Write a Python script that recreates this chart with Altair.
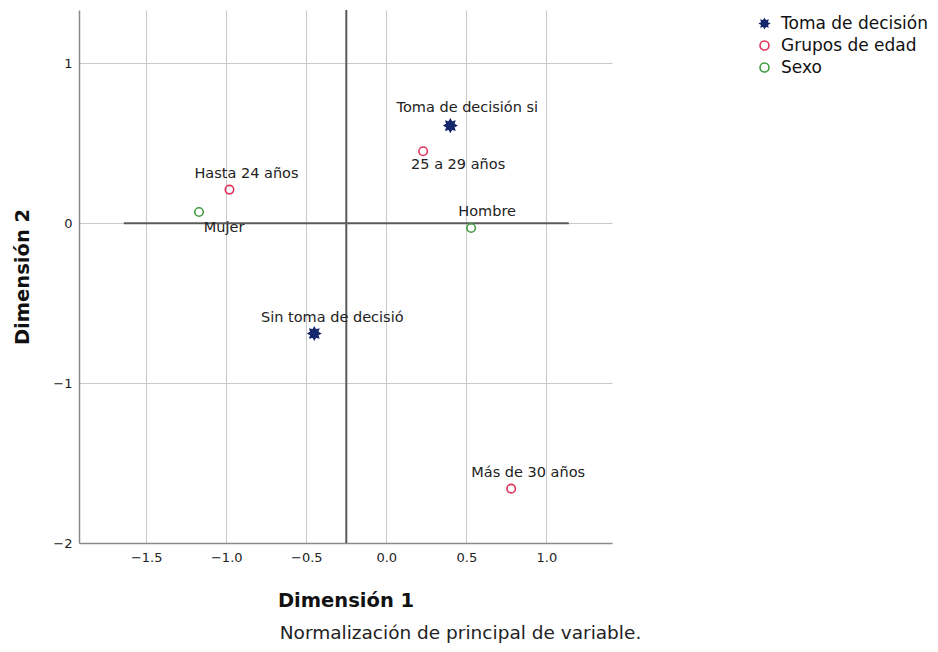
import math
import altair as alt
import pandas as pd

# ---- data ----
categories = ["Toma de decisión si", "Sin toma de decisió", "Hasta 24 años",
              "25 a 29 años", "Más de 30 años", "Mujer", "Hombre"]
variables = ["Toma de decisión", "Toma de decisión", "Grupos de edad",
             "Grupos de edad", "Grupos de edad", "Sexo", "Sexo"]
dim1 = [0.40, -0.45, -0.98, 0.23, 0.78, -1.17, 0.53]
dim2 = [0.61, -0.69, 0.21, 0.45, -1.66, 0.07, -0.03]

legend_order = ["Toma de decisión", "Grupos de edad", "Sexo"]
x_ticks = [-1.5, -1.0, -0.5, 0.0, 0.5, 1.0]
y_ticks = [-2, -1, 0, 1]
ref_x = [-0.25]          # vertical reference line
ref_y = [0.0]            # horizontal reference line
ref_y_from = [-1.64]
ref_y_to = [1.14]

# ---- styling ----
FONT = "DejaVu Sans"
colors = ["#14286e", "#e0345a", "#3f9c3f"]
fills = ["#14286e", "transparent", "transparent"]

def star_path(n=8, r_out=1.0, r_in=0.62):
    pts = []
    for i in range(2 * n):
        r = r_out if i % 2 == 0 else r_in
        a = math.pi * i / n - math.pi / 2
        pts.append(f"{r*math.cos(a):.3f},{r*math.sin(a):.3f}")
    return "M" + "L".join(pts) + "Z"

shapes = [star_path(), "circle", "circle"]

df = pd.DataFrame({"cat": categories, "var": variables, "d1": dim1, "d2": dim2})
vline = pd.DataFrame({"x": ref_x})
hline = pd.DataFrame({"y": ref_y, "x1": ref_y_from, "x2": ref_y_to})

xs = alt.Scale(domain=[-1.92, 1.41], nice=False, zero=False)
ys = alt.Scale(domain=[-2.0, 1.333], nice=False, zero=False)

x_axis = alt.Axis(values=x_ticks, format=".1f", title="Dimensión 1", grid=True,
                  ticks=False, labelPadding=8, titlePadding=27)
y_axis = alt.Axis(values=y_ticks, format="d", title="Dimensión 2", grid=True,
                  ticks=False, labelPadding=7, titlePadding=20)

base = alt.Chart(df)

vrule = alt.Chart(vline).mark_rule(color="#5a5a5a", strokeWidth=2).encode(
    x=alt.X("x:Q", scale=xs, axis=x_axis)
)
hrule = alt.Chart(hline).mark_rule(color="#5a5a5a", strokeWidth=2).encode(
    y=alt.Y("y:Q", scale=ys, axis=y_axis),
    x=alt.X("x1:Q", scale=xs),
    x2="x2:Q",
)

points = base.mark_point(strokeWidth=1.6, opacity=1).encode(
    x=alt.X("d1:Q", scale=xs),
    y=alt.Y("d2:Q", scale=ys),
    stroke=alt.Stroke("var:N", scale=alt.Scale(domain=legend_order, range=colors),
                      legend=alt.Legend(title=None)),
    fill=alt.Fill("var:N", scale=alt.Scale(domain=legend_order, range=fills),
                  legend=alt.Legend(title=None)),
    shape=alt.Shape("var:N", scale=alt.Scale(domain=legend_order, range=shapes),
                    legend=alt.Legend(title=None)),
    size=alt.condition("datum.var == 'Toma de decisión'", alt.value(140), alt.value(72)),
)

# label offsets (pixels) relative to each point, mimicking the reference
label_offsets = {
    "Toma de decisión si": (17, -18),
    "Sin toma de decisió": (18, -16),
    "Hasta 24 años": (17, -16),
    "25 a 29 años": (35, 14),
    "Más de 30 años": (17, -16),
    "Mujer": (25, 16),
    "Hombre": (16, -16),
}
labels = []
for name, (dx, dy) in label_offsets.items():
    labels.append(
        base.transform_filter(alt.datum.cat == name)
        .mark_text(font=FONT, fontSize=14.5, color="#222222", dx=dx, dy=dy,
                   align="center", baseline="middle")
        .encode(x=alt.X("d1:Q", scale=xs), y=alt.Y("d2:Q", scale=ys), text="cat:N")
    )

chart = alt.layer(vrule, hrule, points, *labels).properties(
    width=533,
    height=533,
    padding={"left": 71, "top": 2, "right": 318, "bottom": 101},
    autosize=alt.AutoSizeParams(type="none"),
    title=alt.TitleParams(
        "Normalización de principal de variable.",
        orient="bottom", anchor="middle", frame="group", dx=115,
        font=FONT, fontSize=18.5, fontWeight="normal", color="#222222", offset=14,
    ),
).configure_view(stroke=None).configure_axis(
    labelFont=FONT, labelFontSize=13, labelColor="#222222",
    titleFont=FONT, titleFontSize=19.5, titleFontWeight="bold", titleColor="#111111",
    gridColor="#c8c8c8", gridWidth=1, gridOpacity=1,
    domainColor="#8a8a8a", domainWidth=1.5,
).configure_legend(
    orient="none", legendX=677, legendY=5, padding=0,
    labelFont=FONT, labelFontSize=17, labelColor="#111111",
    symbolSize=80, symbolStrokeWidth=1.6, rowPadding=4, labelOffset=8,
)

chart.save("out.html", embed_options={"renderer": "svg", "actions": False})
